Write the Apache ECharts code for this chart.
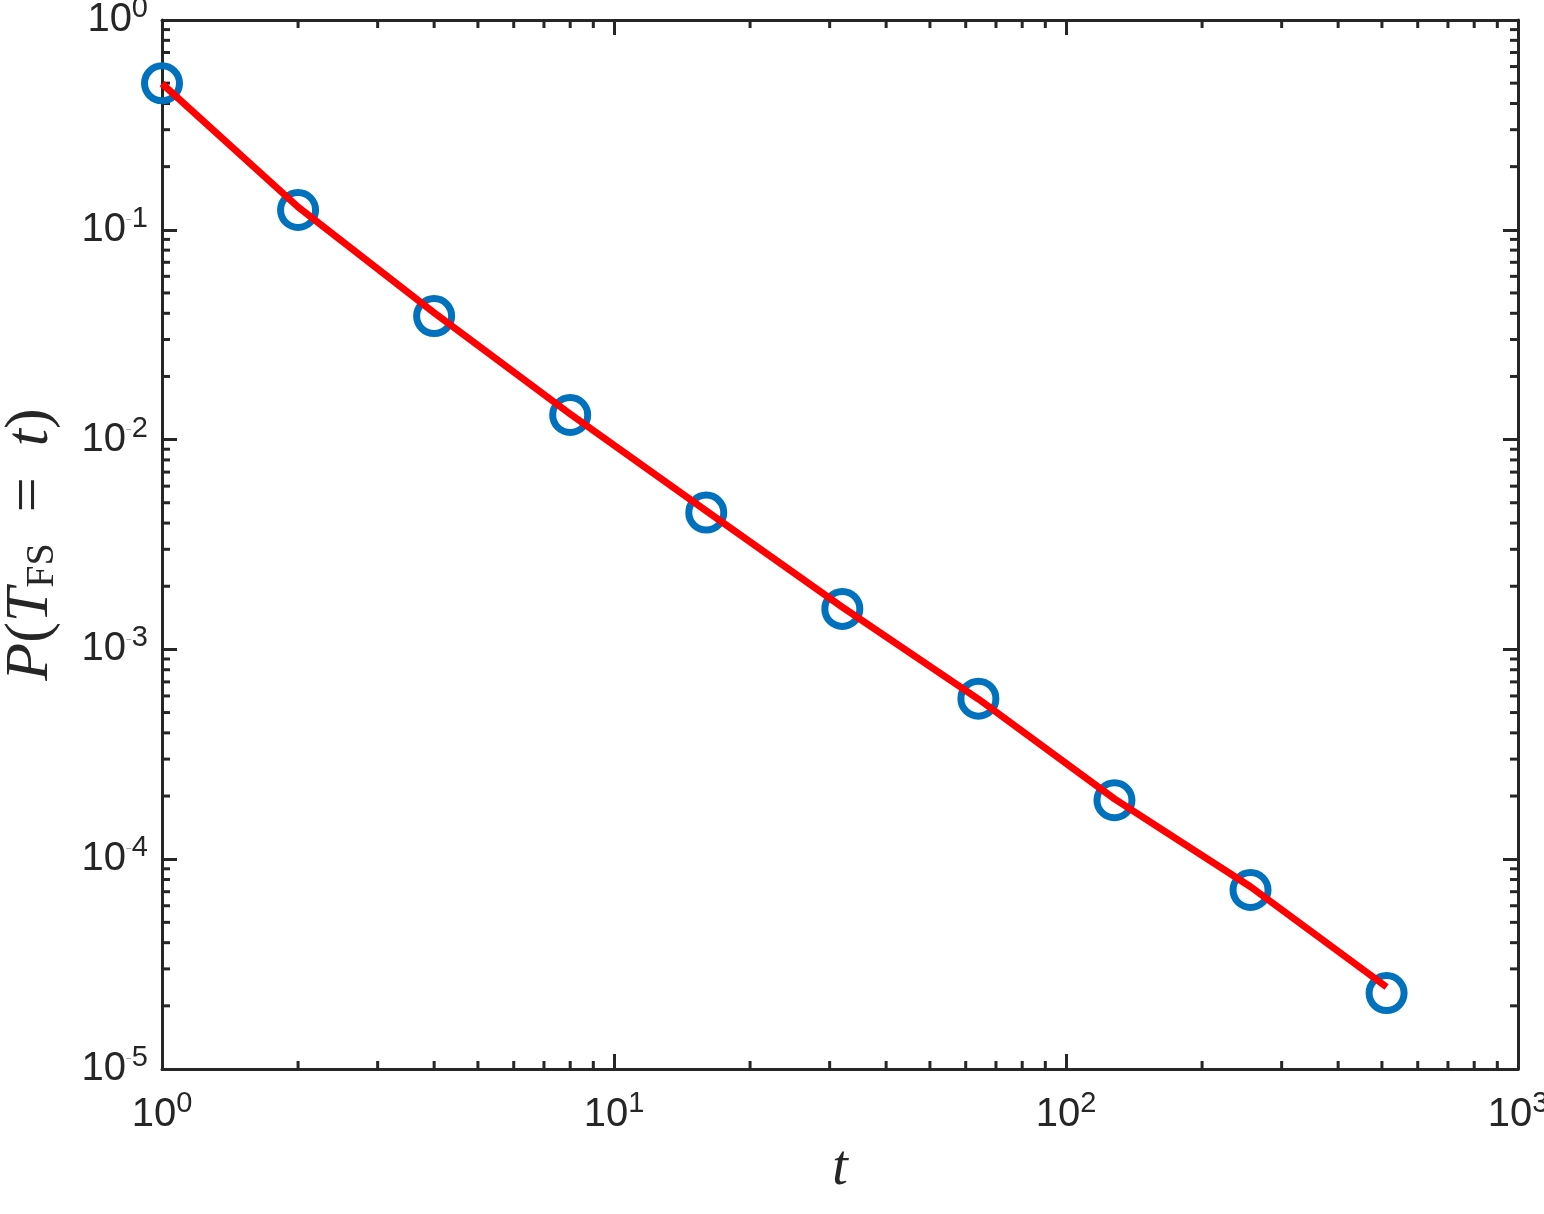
<!DOCTYPE html>
<html><head><meta charset="utf-8">
<script src="https://cdn.jsdelivr.net/npm/echarts@6/dist/echarts.min.js"></script>
<style>html,body{margin:0;padding:0;background:#fff}#c{width:1544px;height:1214px}</style>
</head><body><div id="c"></div>
<script>
const tValues = [1, 2, 4, 8, 16, 32, 64, 128, 256, 512];
const pValues = [0.4993, 0.1243, 0.0388, 0.0131, 0.00449, 0.00156, 0.000582, 0.000191, 0.0000713, 0.0000230];
const fitT = [1, 2, 4, 8, 16, 32, 64, 128, 256, 512];
const fitP = [0.497, 0.1284, 0.0402, 0.01324, 0.00457, 0.00159, 0.000580, 0.000194, 0.0000739, 0.0000246];
const xRange = [1, 1000];
const yRange = [0.00001, 1];

const AX = '#262626';
function minorList(lo, hi) {
  const out = [];
  for (let e = Math.round(Math.log10(lo)); e < Math.round(Math.log10(hi)); e++) {
    for (let m = 2; m <= 9; m++) out.push(m * Math.pow(10, e));
  }
  return out;
}
const xMinor = minorList(xRange[0], xRange[1]);
const yMinor = minorList(yRange[0], yRange[1]);

function fmt(v) {
  const e = Math.round(Math.log10(v));
  if (e < 0) return '{b|10}{m|\u2212}{s|' + (-e) + '}';
  return '{b|10}{s|' + e + '}';
}
const richLab = {
  b: { fontSize: 40, fontFamily: 'Liberation Sans', color: AX, lineHeight: 46 },
  m: { fontSize: 10, fontFamily: 'Liberation Sans', color: '#888', verticalAlign: 'bottom', padding: [0, 0, 30, 0] },
  s: { fontSize: 29, fontFamily: 'Liberation Sans', color: AX, verticalAlign: 'bottom', padding: [0, 0, 22, 0] }
};

const chart = echarts.init(document.getElementById('c'));
const axisCommon = {
  type: 'log', logBase: 10,
  axisLine: { show: true, lineStyle: { color: AX, width: 3 } },
  axisTick: { show: true, inside: true, length: 15, lineStyle: { color: AX, width: 3 } },
  splitLine: { show: false }, minorTick: { show: false }
};
chart.setOption({
  animation: false,
  backgroundColor: '#fff',
  grid: { left: 162, right: 26, top: 20, bottom: 145, containLabel: false, outerBoundsMode: 'none' },
  xAxis: [
    Object.assign({}, axisCommon, {
      min: xRange[0], max: xRange[1], position: 'bottom',
      axisLabel: { formatter: fmt, rich: richLab, margin: 20 },
      name: 't', nameLocation: 'middle', nameGap: 72,
      nameTextStyle: { fontSize: 56, fontStyle: 'italic', fontFamily: 'Liberation Serif', color: AX }
    }),
    Object.assign({}, axisCommon, {
      min: xRange[0], max: xRange[1], position: 'top',
      axisLabel: { show: false }
    })
  ],
  yAxis: [
    Object.assign({}, axisCommon, {
      min: yRange[0], max: yRange[1], position: 'left',
      axisLabel: { formatter: fmt, rich: richLab, margin: 14 },
      name: '{i|P}{r|(}{i|T}{sub|FS}{r|  =  }{i|t}{r|)}', nameLocation: 'middle', nameGap: 100, nameRotate: 90,
      nameTextStyle: {
        color: AX,
        rich: {
          i: { fontSize: 62, fontStyle: 'italic', fontFamily: 'Liberation Serif', color: AX },
          r: { fontSize: 62, fontFamily: 'Liberation Serif', color: AX },
          sub: { fontSize: 40, fontFamily: 'Liberation Serif', color: AX, verticalAlign: 'top', padding: [22, 0, 0, 0] }
        }
      }
    }),
    Object.assign({}, axisCommon, {
      min: yRange[0], max: yRange[1], position: 'right',
      axisLabel: { show: false }
    })
  ],
  series: [
    {
      type: 'custom', coordinateSystem: 'cartesian2d', xAxisIndex: 0, yAxisIndex: 0,
      clip: false, silent: true, z: 1,
      data: xMinor.map(v => [v, yRange[0]]),
      renderItem: function (params, api) {
        const v = api.value(0);
        const b = api.coord([v, yRange[0]]);
        const t = api.coord([v, yRange[1]]);
        const st = { stroke: AX, lineWidth: 3 };
        return { type: 'group', children: [
          { type: 'line', shape: { x1: b[0], y1: b[1], x2: b[0], y2: b[1] - 8 }, style: st },
          { type: 'line', shape: { x1: t[0], y1: t[1], x2: t[0], y2: t[1] + 8 }, style: st }
        ] };
      }
    },
    {
      type: 'custom', coordinateSystem: 'cartesian2d', xAxisIndex: 0, yAxisIndex: 0,
      clip: false, silent: true, z: 1,
      data: yMinor.map(v => [xRange[0], v]),
      renderItem: function (params, api) {
        const v = api.value(1);
        const l = api.coord([xRange[0], v]);
        const r = api.coord([xRange[1], v]);
        const st = { stroke: AX, lineWidth: 3 };
        return { type: 'group', children: [
          { type: 'line', shape: { x1: l[0], y1: l[1], x2: l[0] + 8, y2: l[1] }, style: st },
          { type: 'line', shape: { x1: r[0], y1: r[1], x2: r[0] - 8, y2: r[1] }, style: st }
        ] };
      }
    },
    {
      type: 'scatter', name: 'data', z: 3,
      data: tValues.map((t, i) => [t, pValues[i]]),
      symbol: 'circle', symbolSize: 35,
      itemStyle: { color: 'rgba(255,255,255,0)', borderColor: '#0072BD', borderWidth: 7, opacity: 1 },
      clip: false
    },
    {
      type: 'line', name: 'fit', z: 4,
      data: fitT.map((t, i) => [t, fitP[i]]),
      showSymbol: false, symbol: 'none',
      lineStyle: { color: '#FF0000', width: 7, cap: 'butt', join: 'round' },
      clip: false
    }
  ]
});
</script>
</body></html>
